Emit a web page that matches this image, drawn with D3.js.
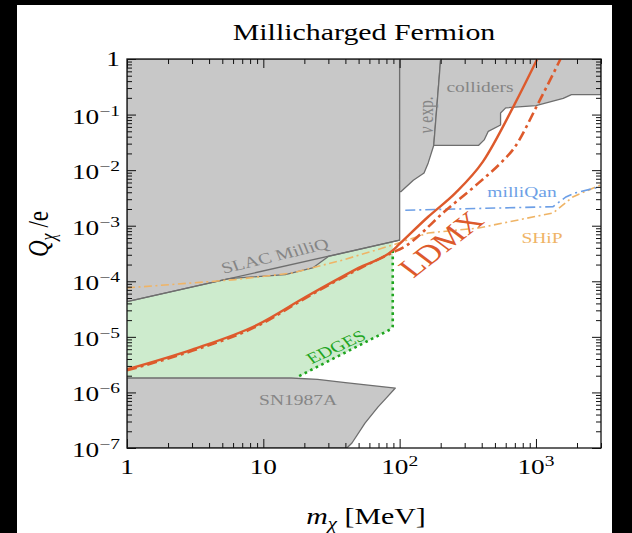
<!DOCTYPE html>
<html>
<head>
<meta charset="utf-8">
<script src="https://cdn.jsdelivr.net/npm/d3@7"></script>
<style>
  html, body { margin: 0; padding: 0; background: #000; }
  svg { display: block; }
</style>
</head>
<body>
<svg id="chart" width="632" height="533"></svg>
<script>
// ---- axis decades and their labels ([base, exponent]) ----
const massTicks = [1, 10, 100, 1000];
const massTickLabels = [["1", ""], ["10", ""], ["10", "2"], ["10", "3"]];
const chargeTicks = [1, 1e-1, 1e-2, 1e-3, 1e-4, 1e-5, 1e-6, 1e-7];
const chargeTickLabels = [["1", ""], ["10", "\u22121"], ["10", "\u22122"], ["10", "\u22123"],
                          ["10", "\u22124"], ["10", "\u22125"], ["10", "\u22126"], ["10", "\u22127"]];

// ---- excluded regions, points are [m_chi (MeV), Q/e] ----
const slacRegion = [[1, 1], [100, 1], [100, 5.5e-4], [30, 2.8e-4], [23, 1.74e-4],
                    [14.5, 1.32e-4], [5.6, 1.12e-4], [1, 4.3e-5]];
const slacLine = [[1, 4.3e-5], [100, 5.5e-4]];
const nuRegion = [[100, 1], [200, 1], [178, 0.028], [162, 0.0135], [151, 8.9e-3],
                  [126, 6.6e-3], [102, 4.1e-3], [100, 4.1e-3]];
const colliderRegion = [[200, 1], [3000, 1], [3000, 0.229], [1820, 0.229], [1585, 0.195],
                        [1000, 0.145], [600, 0.132], [550, 0.107], [550, 0.065], [447, 0.05],
                        [417, 0.035], [380, 0.028], [178, 0.028]];
const snRegion = [[1, 1.82e-6], [16, 1.82e-6], [25, 1.72e-6], [40, 1.5e-6], [93, 1.2e-6],
                  [80, 8.0e-7], [69.5, 5.5e-7], [55.7, 2.8e-7], [44.7, 1.23e-7], [41, 1e-7], [1, 1e-7]];

// ---- EDGES-favoured band ----
const edgesRegion = [[1, 4.3e-5], [89, 5.1e-4], [89, 1.55e-5], [85, 1.35e-5],
                     [17.8, 1.85e-6], [1, 1.8e-6]];
const edgesBoundary = [[89, 3.6e-4], [89, 1.55e-5], [87, 1.4e-5], [85, 1.35e-5], [17.8, 1.9e-6]];

// ---- projected reach ----
const ldmxSolid = [[1, 2.6e-6], [3, 5.9e-6], [9.1, 1.66e-5], [20.4, 5.2e-5], [50, 1.74e-4],
                   [89, 3.6e-4], [98, 4.5e-4], [162, 1.45e-3], [257, 3.9e-3], [407, 1.41e-2],
                   [692, 0.148], [1023, 1]];
const ldmxDashed = [[1, 2.5e-6], [3, 5.6e-6], [9.1, 1.58e-5], [20.4, 5.0e-5], [50, 1.66e-4],
                    [89, 3.3e-4], [105, 4.0e-4], [219, 1.9e-3], [380, 5.9e-3], [562, 1.41e-2],
                    [692, 2.5e-2], [1023, 0.148], [1514, 1]];
const shipCurve = [[1, 7.6e-5], [6.2, 1.07e-4], [16.2, 1.41e-4], [38, 2.4e-4], [89, 4.5e-4],
                   [162, 7.4e-4], [380, 9.1e-4], [1334, 1.7e-3], [1862, 3.3e-3], [2754, 5e-3],
                   [3000, 5.4e-3]];
const milliqanCurve = [[110, 1.9e-3], [1334, 2.2e-3], [1660, 3.3e-3], [1950, 3.9e-3],
                       [2754, 4.8e-3], [3000, 4.9e-3]];

// ---- layout & style ----
const W = 632, H = 533;
const plot = { left: 127, right: 601, top: 59, bottom: 448 };
const SX = 1.3;                       // horizontal glyph stretch used for all text
const FONT = "'Liberation Serif', 'Times New Roman', serif";
const C = {
  grayFill: "#c8c8c8", grayEdge: "#6e6e6e", grayText: "#858585",
  green: "#cdebcd", greenLine: "#1fa51f",
  ldmx: "#dd5a2c", ship: "#efb466", milliqan: "#6d9fe6"
};

const svg = d3.select("#chart");
svg.append("rect").attr("width", W).attr("height", H).attr("fill", "#000");
svg.append("rect").attr("x", 17).attr("y", 5).attr("width", 595).attr("height", H - 5).attr("fill", "#fff");

const x = d3.scaleLog().domain([1, 3000]).range([plot.left, plot.right]);
const y = d3.scaleLog().domain([1e-7, 1]).range([plot.bottom, plot.top]);

svg.append("clipPath").attr("id", "plotClip")
  .append("rect").attr("x", plot.left).attr("y", plot.top)
  .attr("width", plot.right - plot.left).attr("height", plot.bottom - plot.top);

const area = svg.append("g").attr("clip-path", "url(#plotClip)");
const lin = d3.line().x(d => x(d[0])).y(d => y(d[1]));
const smooth = d3.line().x(d => x(d[0])).y(d => y(d[1])).curve(d3.curveMonotoneX);

// EDGES band sits underneath the grey exclusions
area.append("path").attr("d", lin(edgesRegion) + "Z").attr("fill", C.green);

[slacRegion, nuRegion, colliderRegion, snRegion].forEach(r => {
  area.append("path").attr("d", lin(r) + "Z")
    .attr("fill", C.grayFill).attr("stroke", C.grayEdge).attr("stroke-width", 1.3)
    .attr("stroke-linejoin", "round");
});
area.append("path").attr("d", lin(slacLine)).attr("fill", "none")
  .attr("stroke", C.grayEdge).attr("stroke-width", 1.3);

area.append("path").attr("d", lin(edgesBoundary)).attr("fill", "none")
  .attr("stroke", C.greenLine).attr("stroke-width", 2.6).attr("stroke-dasharray", "2.6,3.6");

area.append("path").attr("d", lin(shipCurve)).attr("fill", "none")
  .attr("stroke", C.ship).attr("stroke-width", 1.6).attr("stroke-dasharray", "8,3.5,2,3.5");
area.append("path").attr("d", lin(milliqanCurve)).attr("fill", "none")
  .attr("stroke", C.milliqan).attr("stroke-width", 1.6).attr("stroke-dasharray", "10,4,2,4");

area.append("path").attr("d", smooth(ldmxDashed)).attr("fill", "none")
  .attr("stroke", C.ldmx).attr("stroke-width", 2.6).attr("stroke-dasharray", "10,4,3,4");
area.append("path").attr("d", smooth(ldmxSolid)).attr("fill", "none")
  .attr("stroke", C.ldmx).attr("stroke-width", 2.4);

// text helper: glyphs are widened by SX, optional rotation applied before the stretch
function label(parent, px, py, opt) {
  let tr = `translate(${px},${py}) scale(${SX},1)`;
  if (opt.rotate) tr += ` rotate(${opt.rotate})`;
  const g = parent.append("g").attr("transform", tr);
  const t = g.append("text")
    .attr("font-family", FONT)
    .attr("font-size", opt.size || 15)
    .attr("fill", opt.color || "#000")
    .attr("text-anchor", opt.anchor || "middle");
  if (opt.baseline) t.attr("dominant-baseline", opt.baseline);
  return t;
}
function stretchedAngle(deg) {
  return Math.atan(Math.tan(deg * Math.PI / 180) * SX) * 180 / Math.PI;
}

// region labels
label(svg, 480, 92, { size: 15, color: C.grayText }).text("colliders");
{
  const t = label(svg, 426, 115, { size: 15.5, color: C.grayText, rotate: -90, baseline: "central" });
  t.append("tspan").attr("font-style", "italic").text("\u03bd");
  t.append("tspan").text(" exp.");
}
label(svg, 275, 256, { size: 15.5, color: C.grayText, rotate: stretchedAngle(-13.5), baseline: "central" }).text("SLAC MilliQ");
label(svg, 298, 400, { size: 15, color: C.grayText, baseline: "central" }).text("SN1987A");
label(svg, 336, 347, { size: 15.5, color: C.greenLine, rotate: stretchedAngle(-25), baseline: "central" }).text("EDGES");
label(svg, 441, 244, { size: 27, color: C.ldmx, rotate: stretchedAngle(-38), baseline: "central" }).text("LDMX");
label(svg, 522, 192, { size: 15, color: C.milliqan, baseline: "central" }).text("milliQan");
label(svg, 542, 238, { size: 15, color: C.ship, baseline: "central" }).text("SHiP");

// ---- axes: ticks pointing inward on all four sides ----
const xAll = x.ticks().filter(v => v >= 1 && v <= 3000);
const xMinor = xAll.filter(v => !massTicks.includes(v));
const yAll = y.ticks();
const yMinor = yAll.filter(v => !chargeTicks.some(t => Math.abs(t - v) / t < 1e-9));

function tickAxis(axisFn, scale, values, size, tx, ty) {
  const g = svg.append("g").attr("transform", `translate(${tx},${ty})`)
    .call(axisFn(scale).tickValues(values).tickSizeInner(-size).tickSizeOuter(0).tickFormat(""));
  g.select(".domain").remove();
  g.selectAll("line").attr("stroke", "#111").attr("stroke-width", 1);
}
[[massTicks, 9], [xMinor, 5]].forEach(([v, s]) => {
  tickAxis(d3.axisBottom, x, v, s, 0, plot.bottom);
  tickAxis(d3.axisTop, x, v, s, 0, plot.top);
});
[[chargeTicks, 9], [yMinor, 5]].forEach(([v, s]) => {
  tickAxis(d3.axisLeft, y, v, s, plot.left, 0);
  tickAxis(d3.axisRight, y, v, s, plot.right, 0);
});

svg.append("rect").attr("x", plot.left).attr("y", plot.top)
  .attr("width", plot.right - plot.left).attr("height", plot.bottom - plot.top)
  .attr("fill", "none").attr("stroke", "#111").attr("stroke-width", 1.3);

// tick labels
massTicks.forEach((v, i) => {
  const [b, e] = massTickLabels[i];
  const t = label(svg, x(v), plot.bottom + 26, { size: 21 });
  t.append("tspan").text(b);
  if (e) t.append("tspan").attr("font-size", 15).attr("dy", -8).text(e);
});
chargeTicks.forEach((v, i) => {
  const [b, e] = chargeTickLabels[i];
  const py = y(v) + (i === 0 ? 7 : 9);
  const t = label(svg, 120, py, { size: 21, anchor: "end" });
  t.append("tspan").text(b);
  if (e) t.append("tspan").attr("font-size", 15).attr("dy", -8).text(e);
});

// titles
label(svg, 364, 40, { size: 23 }).text("Millicharged Fermion");
{
  const t = label(svg, 366, 524, { size: 23 });
  t.append("tspan").attr("font-style", "italic").text("m");
  t.append("tspan").attr("font-style", "italic").attr("font-size", 16).attr("dy", 5).text("\u03c7");
  t.append("tspan").attr("dy", -5).text(" [MeV]");
}
{
  const t = label(svg, 48, 234, { size: 23, rotate: -90 });
  t.append("tspan").attr("font-style", "italic").text("Q");
  t.append("tspan").attr("font-style", "italic").attr("font-size", 16).attr("dy", 5).text("\u03c7");
  t.append("tspan").attr("dy", -5).text(" /e");
}
</script>
</body>
</html>
